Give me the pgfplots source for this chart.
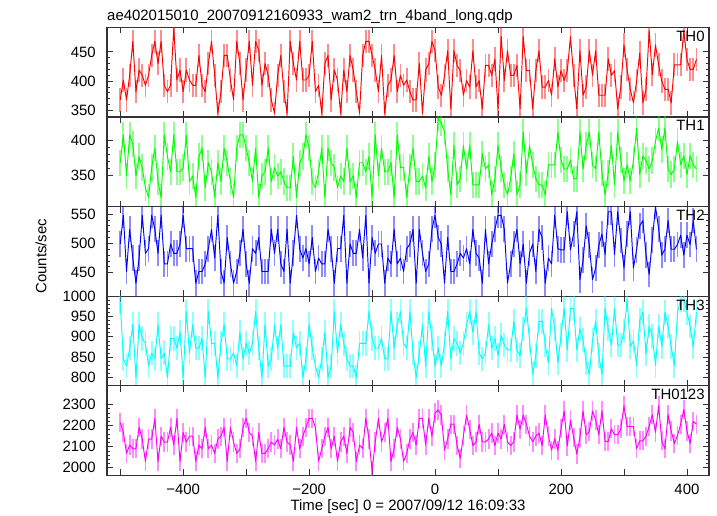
\documentclass[border=0pt]{standalone}
\usepackage{pgfplots}
\pgfplotsset{compat=1.18}
\usepackage{pgfplotstable}
\usepackage{fontspec}
\setmainfont{Liberation Sans}

\pgfplotstableread{
t a b c d e
-500 368 368 499 985 2215
-495 402 408 548 846 2168
-490 368 349 452 828 2068
-485 410 408 524 872 2108
-480 468 395 475 930 2090
-475 382 349 432 800 2090
-470 419 377 475 930 2192
-465 410 361 548 896 2136
-460 393 332 483 884 2030
-455 410 318 491 828 2136
-450 444 361 548 860 2136
-445 468 389 524 846 2235
-440 430 341 483 930 2030
-435 468 318 548 846 2150
-430 393 408 465 860 2122
-425 382 377 465 800 2122
-420 393 355 499 896 2192
-415 490 408 483 896 2108
-410 402 355 483 872 2235
-405 419 355 499 911 2030
-400 382 361 548 800 2168
-395 419 408 491 962 2122
-390 402 341 491 860 2150
-385 393 349 491 930 2150
-380 393 318 432 872 2030
-375 444 377 452 872 2108
-370 393 389 452 896 2090
-365 382 332 465 800 2192
-360 430 368 491 962 2090
-355 468 355 524 884 2108
-350 410 318 475 884 2068
-345 345 368 548 800 2136
-340 382 341 452 884 2150
-335 444 389 432 930 2192
-330 444 368 510 846 2030
-325 402 341 465 846 2192
-320 368 318 432 860 2122
-315 468 389 452 828 2068
-310 430 408 483 911 2090
-305 368 408 524 846 2192
-300 419 389 465 884 2235
-295 468 368 432 860 2168
-290 393 341 491 884 2150
-285 468 389 483 962 2030
-280 452 318 510 872 2168
-275 393 349 452 800 2068
-270 430 355 452 930 2068
-265 410 389 452 828 2090
-260 368 341 524 846 2122
-255 345 361 483 930 2108
-250 410 349 524 872 2136
-245 444 355 465 930 2090
-240 382 341 452 828 2192
-235 345 332 524 828 2122
-230 468 332 432 828 2108
-225 430 377 483 911 2030
-220 402 318 548 872 2192
-215 468 368 491 884 2090
-210 402 377 475 800 2150
-205 402 408 491 846 2192
-200 410 389 465 930 2235
-195 468 341 510 872 2235
-190 382 332 452 828 2192
-185 393 355 475 800 2030
-180 345 389 465 846 2090
-175 430 318 465 911 2150
-170 444 389 524 800 2192
-165 368 368 491 828 2090
-160 419 361 432 962 2150
-155 402 332 491 860 2030
-150 345 349 491 930 2122
-145 419 341 548 884 2150
-140 382 389 432 846 2068
-135 444 341 499 828 2192
-130 419 349 483 828 2168
-125 382 318 483 800 2030
-120 345 368 524 884 2108
-115 444 368 475 884 2090
-110 468 355 548 884 2235
-105 468 377 432 962 2136
-100 444 318 510 896 1985
-95 419 408 483 872 2122
-90 382 349 499 872 2235
-85 444 389 499 896 2122
-80 345 355 432 846 2168
-75 393 355 475 846 2235
-70 402 368 465 962 2030
-65 444 318 524 872 2090
-60 382 408 465 930 2192
-55 410 361 475 962 2136
-50 393 361 452 884 2030
-45 402 318 491 872 2068
-40 382 361 499 962 2136
-35 368 389 524 860 2168
-30 368 341 432 800 2108
-25 430 341 524 860 2235
-20 345 349 483 930 2235
-15 419 332 452 828 2108
-10 430 377 465 962 2235
-5 468 341 524 896 2150
0 452 365 548 828 2260
5 390 432 510 872 2275
10 376 425 499 828 2250
15 410 412 432 884 2083
20 452 359 510 962 2137
25 353 322 452 846 2207
30 452 393 452 896 2207
35 427 336 465 884 2105
40 418 345 483 860 2045
45 376 393 475 884 2151
50 401 359 491 930 2250
55 390 393 465 962 2183
60 452 336 524 911 2105
65 390 336 483 962 2123
70 401 336 475 860 2207
75 353 381 432 846 2123
80 427 359 524 860 2123
85 427 365 465 930 2137
90 410 322 499 872 2165
95 438 345 524 896 2105
100 353 393 548 854 2165
105 476 359 548 904 2137
110 401 336 524 880 2207
115 452 322 432 868 2123
120 410 345 465 868 2105
125 410 381 499 938 2123
130 427 322 524 868 2250
135 353 336 465 854 2183
140 476 412 499 919 2250
145 418 353 432 970 2207
150 418 393 483 892 2151
155 353 365 499 808 2123
160 418 345 452 854 2151
165 452 336 524 938 2165
170 390 336 510 938 2105
175 390 322 432 880 2250
180 401 365 475 836 2151
185 376 365 465 970 2083
190 438 365 548 919 2137
195 390 412 491 836 2083
200 418 372 489 904 2185
205 401 359 489 970 2270
210 418 359 554 868 2103
215 476 372 489 970 2227
220 410 345 516 970 2143
225 353 345 554 868 2065
230 452 412 438 919 2143
235 376 359 471 892 2270
240 390 393 530 836 2157
245 452 412 497 808 2171
250 410 365 438 892 2270
255 452 359 458 938 2227
260 376 412 497 854 2157
265 376 353 516 808 2270
270 376 322 481 970 2125
275 438 353 554 919 2125
280 410 393 554 880 2185
285 418 336 481 970 2157
290 353 412 554 880 2157
295 390 372 505 880 2185
300 462 342 458 914 2295
305 420 365 516 992 2196
310 386 342 554 876 2196
315 363 371 458 890 2196
320 400 418 489 830 2090
325 448 351 530 941 2128
330 363 378 539 960 2128
335 386 371 480 858 2150
340 486 359 447 926 2196
345 411 371 506 902 2252
350 462 399 563 830 2168
355 428 418 525 926 2295
360 400 387 480 876 2128
365 386 418 490 960 2090
370 386 359 539 926 2253
375 363 351 490 876 2175
380 428 359 490 830 2115
385 428 399 498 960 2153
390 428 365 514 992 2207
395 486 378 480 992 2277
400 437 351 514 960 2175
405 420 378 498 926 2115
410 420 365 539 876 2221
415 437 359 490 960 2207
}\datatable

\definecolor{axgray}{gray}{0.2}

\pgfplotsset{
  panel/.style={
    scale only axis, width=602bp, height=89.6bp,
    anchor=north west,
    xmin=-521, xmax=435,
    xtick={-400,-200,0,200,400},
    xticklabels={},
    extra x ticks={-500,-300,-100,100,300},
    extra x tick labels={},
    minor y tick num=4,
    tick align=inside, tick pos=both,
    major tick length=6bp, minor tick length=3bp,
    axis line style={line width=1.2bp, axgray},
    every tick/.style={axgray, line width=0.8bp},
    tick label style={font=\fontsize{15}{18}\selectfont},
    yticklabel style={anchor=east, inner sep=0pt, xshift=-11bp},
    xticklabel style={anchor=base, inner sep=0pt, yshift=-19bp},
    /pgf/number format/assume math mode=true,
    /pgf/number format/set thousands separator={},
    scaled y ticks=false,
    clip=true,
  },
  dat/.style={line width=0.95bp, line join=round, mark=none,
    error bars/y dir=both, error bars/y fixed=#1,
    error bars/error mark=none,
    error bars/error bar style={line width=1.8bp, opacity=0.45}},
}

\begin{document}
\begin{tikzpicture}
\fontsize{15}{18}\selectfont

\begin{axis}[panel, at={(0bp,0bp)}, ymin=339, ymax=492, ytick={350,400,450}]
\addplot[dat=20, color={rgb,255:red,255;green,0;blue,0}] table[x=t, y=a] {\datatable};
\node[anchor=north east, inner sep=0pt, font=\fontsize{15}{18}\selectfont] at (rel axis cs:0.993,0.96) {TH0};
\end{axis}

\begin{axis}[panel, at={(0bp,-89.6bp)}, ymin=305, ymax=434, ytick={350,400}]
\addplot[dat=19, color={rgb,255:red,0;green,255;blue,0}] table[x=t, y=b] {\datatable};
\node[anchor=north east, inner sep=0pt, font=\fontsize{15}{18}\selectfont] at (rel axis cs:0.993,0.96) {TH1};
\end{axis}

\begin{axis}[panel, at={(0bp,-179.2bp)}, ymin=410, ymax=563, ytick={450,500,550}]
\addplot[dat=22, color={rgb,255:red,0;green,0;blue,255}] table[x=t, y=c] {\datatable};
\node[anchor=north east, inner sep=0pt, font=\fontsize{15}{18}\selectfont] at (rel axis cs:0.993,0.96) {TH2};
\end{axis}

\begin{axis}[panel, at={(0bp,-268.8bp)}, ymin=780, ymax=1000, ytick={800,850,900,950,1000}]
\addplot[dat=30, color={rgb,255:red,0;green,255;blue,255}] table[x=t, y=d] {\datatable};
\node[anchor=north east, inner sep=0pt, font=\fontsize{15}{18}\selectfont] at (rel axis cs:0.993,0.96) {TH3};
\end{axis}

\begin{axis}[panel, at={(0bp,-358.4bp)}, ymin=1964, ymax=2390, ytick={2000,2100,2200,2300},
  xticklabels={−400,−200,0,200,400}]
\addplot[dat=46, color={rgb,255:red,255;green,0;blue,255}] table[x=t, y=e] {\datatable};
\node[anchor=north east, inner sep=0pt, font=\fontsize{15}{18}\selectfont] at (rel axis cs:0.993,0.96) {TH0123};
\end{axis}

\node[anchor=base west, inner sep=0pt] at (0bp,7bp) {ae402015010\_20070912160933\_wam2\_trn\_4band\_long.qdp};
\node[anchor=base, inner sep=0pt] at (301bp,-483bp) {Time [sec] 0 = 2007/09/12 16:09:33};
\node[rotate=90, anchor=center, inner sep=0pt] at (-66bp,-229bp) {Counts/sec};

\path[use as bounding box] (-107bp,27.3bp) rectangle (610bp,-488.7bp);
\end{tikzpicture}
\end{document}
